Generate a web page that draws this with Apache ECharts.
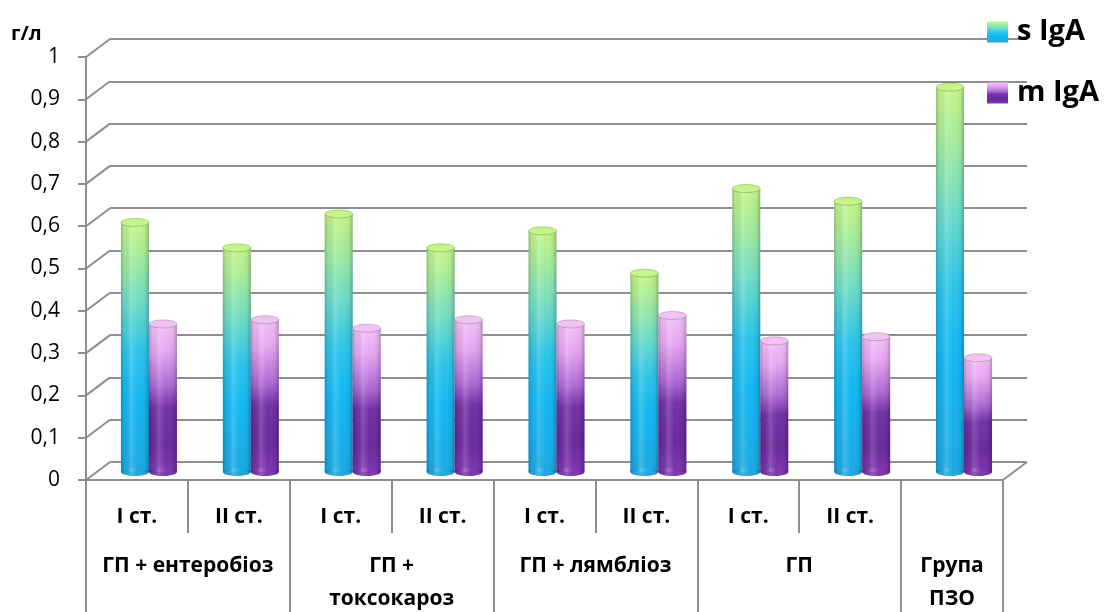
<!DOCTYPE html>
<html><head><meta charset="utf-8">
<script src="https://cdn.jsdelivr.net/npm/echarts@6/dist/echarts.min.js"></script>
<style>html,body{margin:0;padding:0;background:#fff}#c{width:1105px;height:612px}</style>
</head><body><div id="c"></div>
<script>
// ---- data ----
const subLabels = ['I ст.','II ст.','I ст.','II ст.','I ст.','II ст.','I ст.','II ст.',''];
const groupNames = ['ГП + ентеробіоз','ГП +\nтоксокароз','ГП + лямбліоз','ГП','Група\nПЗО'];
const groupSpans = [2,2,2,2,1];
const seriesNames = ['s IgA','m IgA'];
const sIgA = [0.59,0.53,0.61,0.53,0.57,0.47,0.67,0.64,0.91];
const mIgA = [0.35,0.36,0.34,0.36,0.35,0.37,0.31,0.32,0.27];
const yTicks = [0,0.1,0.2,0.3,0.4,0.5,0.6,0.7,0.8,0.9,1];
const yUnit = 'г/л';

// ---- layout ----
const FRONT = {left:86, top:57, right:102, bottom:132};
const DX = 24, DY = 18;
const BACK = {left:FRONT.left+DX, top:FRONT.top-DY, right:FRONT.right-DX, bottom:FRONT.bottom+DY};
const MID = {left:FRONT.left+12, top:FRONT.top-8, right:FRONT.right-12, bottom:FRONT.bottom+8};
const GRID_COLOR = '#8e8e8e';
const FONT = '"Open Sans"';
const BAR_W = 28, RY = 4;

// group slots on a half-category axis (boundaryGap false)
const slotCount = 2*subLabels.length+1;
const groupSlots = new Array(slotCount).fill('');
const boundary = new Set([0]);
let p = 0;
groupNames.forEach((n,i)=>{ groupSlots[2*p+groupSpans[i]] = n; p += groupSpans[i]; boundary.add(2*p); });
const slotKeys = groupSlots.map((_,i)=>'k'+i);

const G = echarts.graphic;
const sStops = [
  {offset:0, color:'#c4f48a'},{offset:0.12, color:'#aaed96'},{offset:0.32, color:'#6fdcc6'},
  {offset:0.52, color:'#2cc4ea'},{offset:0.7, color:'#12b8f2'},{offset:1, color:'#1aa9e3'}];
const mStops = [
  {offset:0, color:'#f3c0f7'},{offset:0.18, color:'#e6a6f0'},{offset:0.42, color:'#ad68d3'},
  {offset:0.56, color:'#7432a6'},{offset:0.8, color:'#6a2a9c'},{offset:1, color:'#7d35b0'}];
const sGrad = new G.LinearGradient(0,0,0,1,sStops);
const mGrad = new G.LinearGradient(0,0,0,1,mStops);
const shadeStops = [
  {offset:0, color:'rgba(0,0,40,0.22)'},{offset:0.12, color:'rgba(0,0,0,0.04)'},{offset:0.35, color:'rgba(255,255,255,0.16)'},
  {offset:0.6, color:'rgba(255,255,255,0)'},{offset:0.88, color:'rgba(0,0,0,0.06)'},{offset:1, color:'rgba(0,0,40,0.25)'}];

function cylinder(stops, grad, off){
  return (params, api)=>{
    const i = api.value(0), v = api.value(1);
    const top = api.coord([i, v]), base = api.coord([i, 0]);
    const cx = top[0] + off, x0 = cx - BAR_W/2;
    const h = base[1] - top[1];
    return {type:'group', children:[
      {type:'ellipse', shape:{cx:cx, cy:base[1], rx:BAR_W/2, ry:RY}, style:{fill:stops[stops.length-1].color}},
      {type:'rect', shape:{x:x0, y:top[1], width:BAR_W, height:h}, style:{fill:grad}},
      {type:'ellipse', shape:{cx:cx, cy:base[1], rx:BAR_W/2, ry:RY}, style:{fill:new G.LinearGradient(0,0,1,0,shadeStops)}},
      {type:'rect', shape:{x:x0, y:top[1], width:BAR_W, height:h}, style:{fill:new G.LinearGradient(0,0,1,0,shadeStops)}},
      {type:'ellipse', shape:{cx:cx, cy:top[1], rx:BAR_W/2, ry:RY}, style:{fill:stops[0].color, stroke:'rgba(90,120,60,0.35)', lineWidth:1}}
    ]};
  };
}

const chart = echarts.init(document.getElementById('c'));
chart.setOption({
  animation:false,
  backgroundColor:'#fff',
  title:{text:yUnit, left:11, top:24, padding:0, textStyle:{fontFamily:FONT, fontSize:20, fontWeight:'bold', color:'#000'}},
  legend:{
    data:seriesNames, orient:'vertical', left:982, top:12, itemWidth:21, itemHeight:21, itemGap:31,
    icon:'rect', textStyle:{fontFamily:FONT, fontSize:29, lineHeight:30, fontWeight:'bold', color:'#000', padding:[0,0,0,4]}
  },
  grid:[
    {left:FRONT.left, top:FRONT.top, right:FRONT.right, bottom:FRONT.bottom, outerBoundsMode:'none', containLabel:false},
    {left:BACK.left, top:BACK.top, right:BACK.right, bottom:BACK.bottom, outerBoundsMode:'none', containLabel:false},
    {left:MID.left, top:MID.top, right:MID.right, bottom:MID.bottom, outerBoundsMode:'none', containLabel:false}
  ],
  xAxis:[
    {gridIndex:0, type:'category', data:subLabels, position:'bottom',
     axisLine:{lineStyle:{color:GRID_COLOR, width:2}},
     axisTick:{show:true, interval:0, length:53, lineStyle:{color:GRID_COLOR, width:2}},
     axisLabel:{interval:0, margin:24, lineHeight:26, fontFamily:FONT, fontSize:21, fontWeight:'bold', color:'#000'}},
    {gridIndex:0, type:'category', data:slotKeys, boundaryGap:false, position:'bottom',
     axisLine:{show:false},
     axisTick:{show:true, length:133, interval:(i)=>boundary.has(i), lineStyle:{color:GRID_COLOR, width:2}},
     axisLabel:{interval:(i)=>groupSlots[i]!=='', formatter:(v,i)=>groupSlots[i], margin:70, lineHeight:33,
       fontFamily:FONT, fontSize:21, fontWeight:'bold', color:'#000'}},
    {gridIndex:1, type:'category', data:subLabels, show:false},
    {gridIndex:2, type:'category', data:subLabels, show:false}
  ],
  yAxis:[
    {gridIndex:0, type:'value', min:0, max:1, interval:0.1,
     axisLine:{show:true, lineStyle:{color:GRID_COLOR, width:2}},
     axisTick:{show:true, length:8, lineStyle:{color:GRID_COLOR, width:2}},
     splitLine:{show:false},
     axisLabel:{margin:26, fontFamily:FONT, fontSize:21, color:'#000',
       formatter:(v)=>String(+v.toFixed(1)).replace('.',',')}},
    {gridIndex:1, type:'value', min:0, max:1, interval:0.1,
     axisLine:{show:false}, axisTick:{show:false}, axisLabel:{show:false},
     splitLine:{show:true, lineStyle:{color:GRID_COLOR, width:2}}},
    {gridIndex:2, type:'value', min:0, max:1, interval:0.1, show:false, splitLine:{show:false}}
  ],
  series:[
    {type:'custom', xAxisIndex:0, yAxisIndex:0, silent:true, z:1,
     data:yTicks.map(v=>[0,v]),
     renderItem:(params, api)=>{
       const cs = params.coordSys;
       const y = api.coord([0, api.value(1)])[1];
       const style = {stroke:GRID_COLOR, lineWidth:2};
       const kids = [{type:'line', shape:{x1:cs.x, y1:y, x2:cs.x+DX, y2:y-DY}, style}];
       if (api.value(1) === 0) kids.push({type:'line', shape:{x1:cs.x+cs.width, y1:y, x2:cs.x+cs.width+DX, y2:y-DY}, style});
       return {type:'group', children:kids};
     }},
    {name:seriesNames[0], type:'custom', xAxisIndex:3, yAxisIndex:2, z:3,
     data:sIgA.map((v,i)=>[i,v]), itemStyle:{color:sGrad}, renderItem:cylinder(sStops, sGrad, -BAR_W/2)},
    {name:seriesNames[1], type:'custom', xAxisIndex:3, yAxisIndex:2, z:3,
     data:mIgA.map((v,i)=>[i,v]), itemStyle:{color:mGrad}, renderItem:cylinder(mStops, mGrad, BAR_W/2)}
  ]
});
</script></body></html>
